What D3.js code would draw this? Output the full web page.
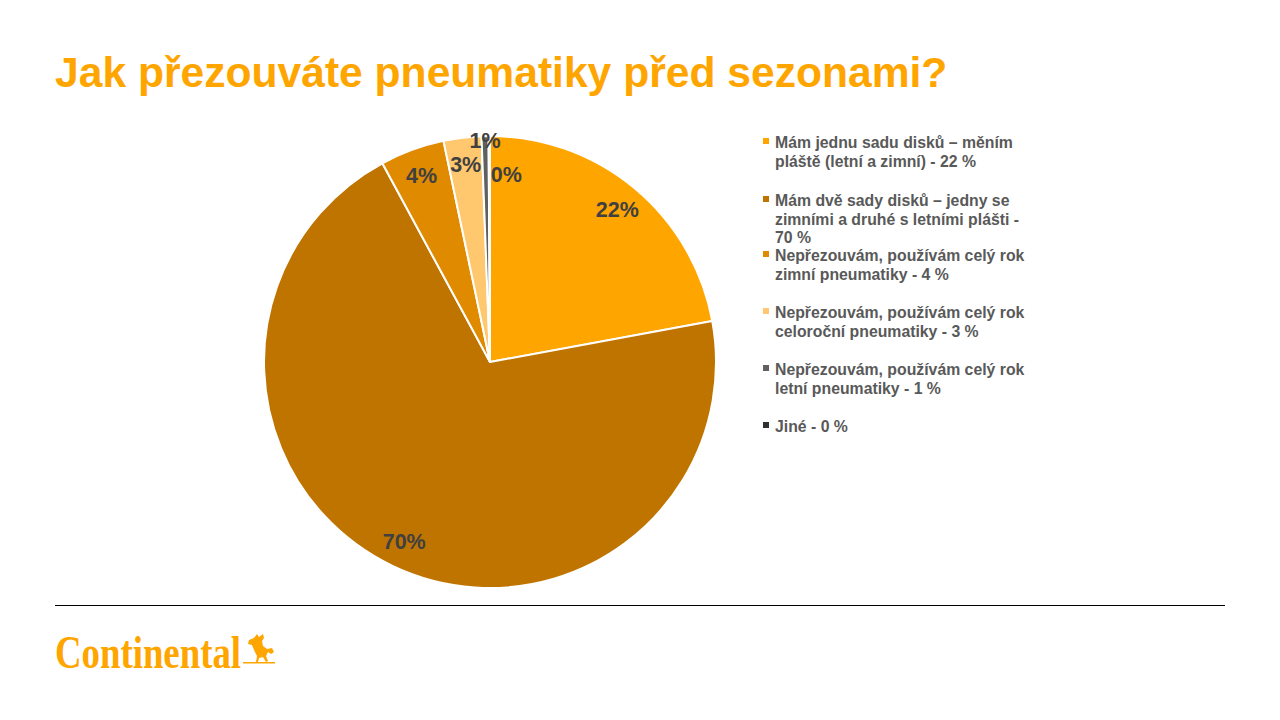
<!DOCTYPE html>
<html><head><meta charset="utf-8">
<script src="https://cdn.jsdelivr.net/npm/d3@7/dist/d3.min.js"></script>
<style>body{margin:0;background:#fff}svg{display:block}</style>
</head><body><svg id="c" width="1280" height="720"></svg>
<script>
const categories = [
  "Mám jednu sadu disků – měním pláště (letní a zimní) - 22 %",
  "Mám dvě sady disků – jedny se zimními a druhé s letními plášti - 70 %",
  "Nepřezouvám, používám celý rok zimní pneumatiky - 4 %",
  "Nepřezouvám, používám celý rok celoroční pneumatiky - 3 %",
  "Nepřezouvám, používám celý rok letní pneumatiky - 1 %",
  "Jiné - 0 %"
];
const legendLines = [
  ["Mám jednu sadu disků – měním", "pláště (letní a zimní) - 22 %"],
  ["Mám dvě sady disků – jedny se", "zimními a druhé s letními plášti -", "70 %"],
  ["Nepřezouvám, používám celý rok", "zimní pneumatiky - 4 %"],
  ["Nepřezouvám, používám celý rok", "celoroční pneumatiky - 3 %"],
  ["Nepřezouvám, používám celý rok", "letní pneumatiky - 1 %"],
  ["Jiné - 0 %"]
];
const values = [22.1, 70.0, 4.6, 2.7, 0.5, 0.1];
const labels = ["22%", "70%", "4%", "3%", "1%", "0%"];
const colors = ["#FFA500", "#C07400", "#E08A00", "#FFC76E", "#606060", "#303030"];
const title = "Jak přezouváte pneumatiky před sezonami?";

const svg = d3.select("#c");
const font = "Arial, 'Liberation Sans', sans-serif";

svg.append("text").attr("x", 55).attr("y", 87)
  .attr("font-family", font).attr("font-weight", "bold").attr("font-size", 42.6)
  .attr("fill", "#FFA500").text(title);

const cx = 490, cy = 362, R = 226;
const g = svg.append("g").attr("transform", `translate(${cx},${cy})`);
const pie = d3.pie().sort(null).value(d => d);
const arcs = pie(values);
const arc = d3.arc().innerRadius(0).outerRadius(R);
g.selectAll("path").data(arcs).enter().append("path")
  .attr("d", arc).attr("fill", (d, i) => colors[i])
  .attr("stroke", "#fff").attr("stroke-width", 2).attr("stroke-linejoin", "round");

const labelArc = d3.arc().innerRadius(R * 0.88).outerRadius(R * 0.88);
const topArc = d3.arc().innerRadius(R * 0.98).outerRadius(R * 0.98);
g.selectAll("text.lbl").data(arcs).enter().append("text")
  .attr("class", "lbl")
  .attr("transform", (d, i) => {
    let p;
    if (i === 4) p = topArc.centroid(d);
    else p = labelArc.centroid(d);
    if (i === 5) p = [p[0] + 17, p[1] + 11];
    return `translate(${p[0]},${p[1]})`;
  })
  .attr("text-anchor", "middle").attr("dy", "0.36em")
  .attr("font-family", font).attr("font-weight", "bold").attr("font-size", 21.5)
  .attr("fill", "#404040").text((d, i) => labels[i]);

// legend
const legendTops = [143, 201, 256, 313, 370, 427];
const lg = svg.append("g");
legendLines.forEach((lines, i) => {
  const y0 = legendTops[i];
  lg.append("rect").attr("x", 763).attr("y", y0 - 5).attr("width", 6).attr("height", 6)
    .attr("fill", colors[i]);
  const t = lg.append("text").attr("font-family", font).attr("font-weight", "bold")
    .attr("font-size", 15.8).attr("fill", "#595959");
  lines.forEach((l, j) => {
    t.append("tspan").attr("x", 775).attr("y", y0 + 5 + j * 18.5).text(l);
  });
});

// footer line
svg.append("line").attr("x1", 55).attr("x2", 1225).attr("y1", 605.5).attr("y2", 605.5)
  .attr("stroke", "#000").attr("stroke-width", 1);

// logo
const logo = svg.append("g");
logo.append("text").attr("x", 55).attr("y", 668)
  .attr("font-family", "'Liberation Serif', 'DejaVu Serif', serif").attr("font-weight", "bold")
  .attr("font-size", 46).attr("fill", "#FFA500")
  .attr("textLength", 186).attr("lengthAdjust", "spacingAndGlyphs").text("Continental");
logo.append("path")
  .attr("d", "M249,640 l5,-2 l3,-4 l2,3 l4,-3 l1,4 l-2,3 l1,5 l4,3 l5,-1 l2,4 l-3,2 l-3,-2 l-2,4 l2,5 l-2,1 l-3,-5 l-4,1 l-1,4 l-2,0 l1,-6 l-3,-6 l-2,-5 l-4,-1 z")
  .attr("fill", "#FFA500");
logo.append("rect").attr("x", 243).attr("y", 662).attr("width", 32).attr("height", 1.5).attr("fill", "#FFA500");
</script></body></html>
